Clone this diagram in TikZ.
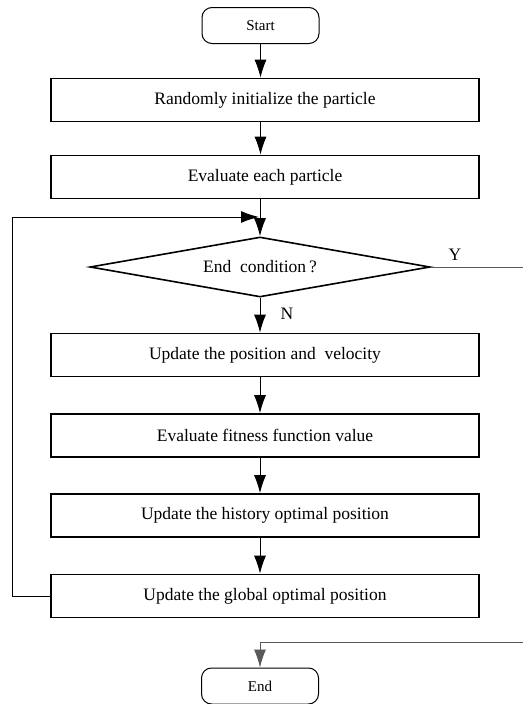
\documentclass[tikz,border=0pt]{standalone}
\usepackage{fontspec}
\setmainfont{Liberation Serif}
\usetikzlibrary{shapes.geometric,arrows.meta,calc}
\begin{document}
\begin{tikzpicture}[x=1pt,y=-1pt,
  procbox/.style={draw,line width=1.6pt,minimum width=428pt,minimum height=43pt,inner sep=0pt,font=\fontsize{17.5}{20}\selectfont},
  term/.style={draw,line width=1pt,rounded corners=10pt,minimum width=117pt,minimum height=36pt,inner sep=0pt,font=\fontsize{15}{18}\selectfont},
  dec/.style={draw,diamond,line width=1.6pt,minimum width=340pt,minimum height=60pt,inner sep=0pt,aspect=5.6,font=\fontsize{17.5}{20}\selectfont},
  conn/.style={line width=1pt,-{Latex[length=18pt,width=12pt]}},
  plainline/.style={line width=1pt},
  gline/.style={line width=0.9pt,draw=black!65},
  lbl/.style={font=\fontsize{17.5}{20}\selectfont,inner sep=0pt}]
\useasboundingbox (0,0) rectangle (523,704);
\node[term] (start) at (260.5,25.5) {Start};
\node[procbox] (b1) at (265,100) {Randomly initialize the particle};
\node[procbox] (b2) at (265,177) {Evaluate each particle};
\node[dec] (dia) at (260,267) {End~~condition\,?};
\node[procbox] (b3) at (265,355) {Update the position and~~velocity};
\node[procbox] (b4) at (265,435.5) {Evaluate fitness function value};
\node[procbox] (b5) at (265,515.5) {Update the history optimal position};
\node[procbox] (b6) at (265,596) {Update the global optimal position};
\node[term] (end) at (260,686) {End};
\coordinate (loopc) at (259,217);
\coordinate (yend) at (523,267);
\coordinate (eend) at (523,642);
\node[lbl] (ylab) at (455,255) {Y};
\node[lbl] (nlab) at (287,314) {N};
\draw[conn] (start.south) -- (start.south |- b1.north);
\draw[conn] (start.south |- b1.south) -- (start.south |- b2.north);
\draw[conn] (dia.north |- b2.south) -- (dia.north);
\draw[conn] (dia.south) -- (dia.south |- b3.north);
\draw[conn] (dia.south |- b3.south) -- (dia.south |- b4.north);
\draw[conn] (dia.south |- b4.south) -- (dia.south |- b5.north);
\draw[conn] (dia.south |- b5.south) -- (dia.south |- b6.north);
\draw[conn] (b6.west) -- ++(-38,0) |- (loopc);
\draw[gline] (dia.east) -- (yend);
\draw[gline,-{Latex[length=18pt,width=12pt]}] (eend) -- (end.north |- eend) -- (end.north);
\end{tikzpicture}
\end{document}
